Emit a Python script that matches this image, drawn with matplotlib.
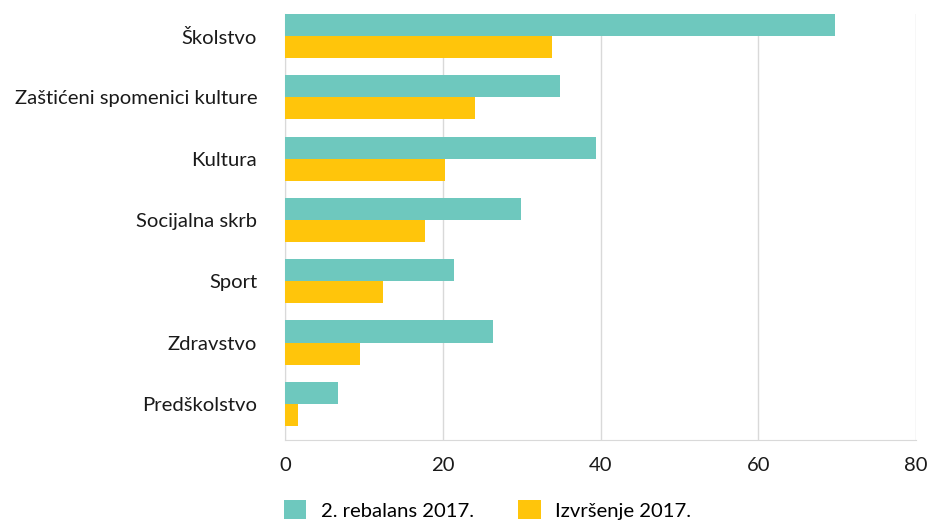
import matplotlib.pyplot as plt
import numpy as np

plt.rcParams['font.family'] = ['Lato', 'DejaVu Sans']

# data
categories = ['Školstvo', 'Zaštićeni spomenici kulture', 'Kultura', 'Socijalna skrb',
              'Sport', 'Zdravstvo', 'Predškolstvo']
rebalans = [69.7, 34.9, 39.4, 29.9, 21.4, 26.4, 6.7]
izvrsenje = [33.9, 24.1, 20.3, 17.7, 12.4, 9.5, 1.65]
series_names = ['2. rebalans 2017.', 'Izvršenje 2017.']
xticks = [0, 20, 40, 60, 80]

teal = '#6EC8BE'
yellow = '#FFC50B'
grid_col = '#D9D9D9'

fig = plt.figure(figsize=(9.33, 5.25), dpi=100)
ax = fig.add_axes([285 / 933, 1 - 440 / 525, 631 / 933, 426 / 525])

pos = np.arange(len(categories))
h = 0.36
ax.barh(pos - h / 2, rebalans, height=h, color=teal, label=series_names[0], zorder=3)
ax.barh(pos + h / 2, izvrsenje, height=h, color=yellow, label=series_names[1], zorder=3)

ax.set_xlim(0, 80)
ax.set_ylim(6.59, -0.36)
ax.set_xticks(xticks)
ax.set_yticks(pos)
ax.set_yticklabels(categories)
ax.tick_params(axis='both', length=0, labelsize=14.6, colors='#1a1a1a')
ax.tick_params(axis='x', pad=12)
ax.tick_params(axis='y', pad=20)

ax.grid(axis='x', color=grid_col, linewidth=1, zorder=0)
for side in ['top', 'right']:
    ax.spines[side].set_visible(False)
ax.spines['left'].set_color(grid_col)
ax.spines['bottom'].set_color(grid_col)

fig.legend(loc='lower left', bbox_to_anchor=(276 / 933, -0.005), ncol=2, frameon=False,
           fontsize=14.6, handlelength=1.1, handleheight=1.1, handletextpad=0.7,
           columnspacing=2.2, borderaxespad=0)

fig.savefig('out.png', dpi=100)
